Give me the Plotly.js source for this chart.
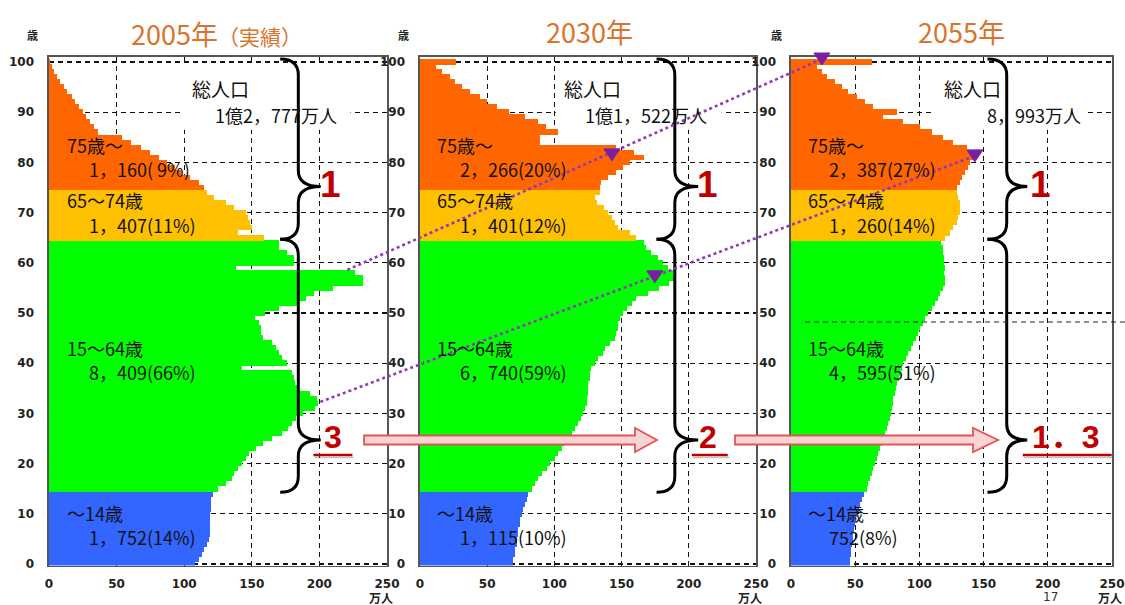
<!DOCTYPE html>
<html><head><meta charset="utf-8">
<script src="https://cdn.plot.ly/plotly-3.0.1.min.js"></script>
<style>html,body{margin:0;padding:0;background:#fff}</style>
</head><body><div id="chart" style="width:1125px;height:605px"></div>
<script>
// ---------------- DATA ----------------
// ages 0..100 (index = age)
const ages = Array.from({length: 101}, (_, i) => i);

// population by single year of age (万人)
const pop2005 = [
  108,111,113,115,117,118,119,119,119,119, 119,120,120,120,121,
  125,131,135,137,140, 143,146,148,153,158,
  165,172,177,180,183, 188,197,199,198,193,
  184,182,181,180,143, 176,172,170,168,165,
  158,157,157,155,152, 160,170,185,190,196,
  210,232,232,226,138, 181,181,176,170,170,
  159,140,150,149,147, 146,137,131,122,117,
  115,111,104,98,93, 87,81,75,68,61, 54,
  36,33,30,27,25, 22,19,17,13,11, 8,6,4,2,1
];
const pop2030 = [
  69.4,69.4,70.6,70.6,71.9,71.9,73,73,74.3,74.3, 75.6,76.8,78,79.3,80.6,
  83,85.5,88,90.5,94.2, 96.7,100.4,102.9,105.4,107.8,
  110.3,112.8,115.2,117.7,120, 121.4,122.7,124,124,125,
  125,125,126.4,126.4,127.6, 130,132.6,136,137.5,141.3,
  145,146,147.4,147.4,148.7, 151,153.7,157.4,161,170,
  178,185,189,188.4,184.6, 181,177,172,168.4,167,
  161,156,147.5,145,142.5, 140,136.6,131.6,130,134,
  134,135,140,146,151, 156,167,159,146,89, 89,
  103,94,88,78,66, 57,50,45,37,31, 26,22,16,12,27
];
const pop2055 = [
  45.9,45.9,46.4,46.7,47.2,48,48.5,49,49.8,50.6, 51.6,52.9,53.7,55,56.8,
  58.9,60.2,61.5,62.8,64, 65.4,66.7,68,69.3,70.5,
  71.8,73.2,74.4,75.7,77, 77.5,78.3,79.1,79.6,80.9,
  81.7,82.7,84,84.8,86.1, 87.4,89.5,91.3,93.1,95.2,
  97.3,99.1,100.4,103,104.4, 106.9,109.5,112,114.6,116,
  118.5,119.8,119.8,119,119.8, 119,119,118.5,118,117.2,
  119.7,123.6,126.3,128.9,130.2, 131.5,131.5,131.5,130.2,128.9,
  128.9,131.5,132.8,135.4,138, 139.3,141.9,140.6,136.7,126.3, 118.5,
  109.5,100.4,87.4,71.8,82.2, 64,57.6,51.1,44.6,39.4, 34.2,28.3,23.9,20,62.8
];
const pops = [pop2005, pop2030, pop2055];

const panelTitles = ['2005年<span style="font-size:21px">（実績）</span>', '2030年', '2055年'];
const groupNames = ['～14歳', '15～64歳', '65～74歳', '75歳～'];
const groupAges = [[0, 14], [15, 64], [65, 74], [75, 100]];
const groupColors = ['#3366FF', '#00FF00', '#FFC000', '#FF6600'];
const groupCounts = [
  ['1，752(14%)', '8，409(66%)', '1，407(11%)', '1，160( 9%)'],
  ['1，115(10%)', '6，740(59%)', '1，401(12%)', '2，266(20%)'],
  ['752(8%)', '4，595(51%)', '1，260(14%)', '2，387(27%)']
];
const totalLabel = '総人口';
const totals = ['1億2，777万人', '1億1，522万人', '8，993万人'];
const oldRatio = ['1', '1', '1'];
const workRatio = ['3', '2', '1．3'];
const yTicks = [0, 10, 20, 30, 40, 50, 60, 70, 80, 90, 100];
const xTicks = [0, 50, 100, 150, 200, 250];
const yUnit = '歳', xUnit = '万人', pageNo = '17';

// ---------------- GEOMETRY ----------------
const W = 1125, H = 605;
const xDomains = [[49 / W, 387 / W], [420 / W, 756 / W], [791 / W, 1112 / W]];
const yDomain = [(H - 565.5) / H, (H - 57) / H];
const xRange = [0, 250], yRange = [-0.3, 101];
const PX = (x, y) => ({x: x / W, y: 1 - y / H});           // pixel -> paper (decorations)
function toPaper(p, v, a) {
  const d = xDomains[p];
  return {
    x: d[0] + (d[1] - d[0]) * (v - xRange[0]) / (xRange[1] - xRange[0]),
    y: yDomain[0] + (yDomain[1] - yDomain[0]) * (a - yRange[0]) / (yRange[1] - yRange[0])
  };
}
const axSuf = p => (p === 0 ? '' : String(p + 1));

// ---------------- TRACES ----------------
const traces = [];
pops.forEach((pop, p) => {
  groupAges.forEach(([lo, hi], g) => {
    traces.push({
      type: 'bar', orientation: 'h',
      y: ages.slice(lo, hi + 1), x: pop.slice(lo, hi + 1),
      width: 1.12,
      marker: {color: groupColors[g], line: {width: 0}},
      xaxis: 'x' + axSuf(p), yaxis: 'y' + axSuf(p),
      hoverinfo: 'skip', name: groupNames[g]
    });
  });
});

// ---------------- LAYOUT ----------------
const tickFont = {family: 'DejaVu Sans', size: 12, color: '#222', weight: 'bold'};
const layout = {
  width: W, height: H,
  margin: {l: 0, r: 0, t: 0, b: 0},
  paper_bgcolor: '#fff', plot_bgcolor: '#fff',
  showlegend: false, barmode: 'overlay', bargap: 0,
  font: {family: 'Noto Sans CJK JP', color: '#111'},
  annotations: [], shapes: []
};
for (let p = 0; p < 3; p++) {
  const s = axSuf(p);
  layout['xaxis' + s] = {
    domain: xDomains[p], range: xRange, anchor: 'y' + s,
    tickvals: xTicks, ticks: 'outside', ticklen: 6, tickcolor: 'rgba(0,0,0,0)',
    tickfont: tickFont, showgrid: true, gridcolor: '#111', gridwidth: 1.2, griddash: '5px,4px',
    zeroline: false, showline: true, mirror: true, linecolor: '#555', linewidth: 1.6, fixedrange: true
  };
  layout['yaxis' + s] = {
    domain: yDomain, range: yRange, anchor: 'x' + s,
    tickvals: yTicks, ticks: 'outside', ticklen: 11, tickcolor: 'rgba(0,0,0,0)',
    tickfont: tickFont, showgrid: true, gridcolor: '#111', gridwidth: 1.2, griddash: '5px,4px',
    zeroline: false, showline: true, mirror: true, linecolor: '#555', linewidth: 1.6, fixedrange: true
  };
}

const A = layout.annotations, S = layout.shapes;
const titlePos = [[216, 33], [589, 32], [961, 32]];
const saiPos = [[32, 35], [403, 35], [776, 35]];
const manPos = [[381, 597], [750, 597], [1110, 597]];
const totalXs = [[104.4, 121.5], [105.6, 121.2], [117.5, 151]];
const boxXs = [[97, 223], [101, 224.5], [112, 229]];
const braceX = [[184.4, 171, 201], [189.6, 176, 207], [168, 153, 184]]; // vertical, curl, tip (万人 units)
const ratioX = [[208, 210.4, 195.6, 224.4], [214, 214.5, 202.2, 229], [194, 214, 180.5, 249.8]];
const groupLabelAges = [[10.1, 5.4], [43, 38.2], [72.5, 67.5], [83.5, 78.7]];

function bracePath(vx, cx, tx, y0, y1, yt, r) {
  return `M ${cx},${y0} Q ${vx},${y0} ${vx},${y0 - r} L ${vx},${yt + r} Q ${vx},${yt} ${tx},${yt} ` +
         `Q ${vx},${yt} ${vx},${yt - r} L ${vx},${y1 + r} Q ${vx},${y1} ${cx},${y1}`;
}

for (let p = 0; p < 3; p++) {
  const s = axSuf(p), xr = 'x' + s, yr = 'y' + s;
  // panel title
  let t = PX(...titlePos[p]);
  A.push({xref: 'paper', yref: 'paper', x: t.x, y: t.y, text: panelTitles[p], showarrow: false,
          font: {family: 'Noto Sans CJK JP', size: 27, color: '#D9742C'}, xanchor: 'center', yanchor: 'middle'});
  t = PX(...saiPos[p]);
  A.push({xref: 'paper', yref: 'paper', x: t.x, y: t.y, text: yUnit, showarrow: false,
          xanchor: 'center', yanchor: 'middle',
          font: {family: 'Noto Sans CJK JP', size: 11, color: '#222', weight: 'bold'}});
  t = PX(...manPos[p]);
  A.push({xref: 'paper', yref: 'paper', x: t.x, y: t.y, text: xUnit, showarrow: false,
          xanchor: 'center', yanchor: 'middle',
          font: {family: 'Noto Sans CJK JP', size: 12, color: '#222', weight: 'bold'}});
  // group labels
  groupAges.forEach((_, g) => {
    A.push({xref: xr, yref: yr, x: 11.5, y: groupLabelAges[g][0], text: groupNames[g], showarrow: false,
            xanchor: 'left', yanchor: 'middle', font: {size: 18, color: '#111'}});
    A.push({xref: xr, yref: yr, x: 28, y: groupLabelAges[g][1], text: groupCounts[p][g], showarrow: false,
            xanchor: 'left', yanchor: 'middle', font: {size: 18, color: '#111'}});
  });
  // total population (with white patch hiding the grid)
  S.push({type: 'rect', xref: xr, yref: yr, x0: boxXs[p][0], x1: boxXs[p][1], y0: 86.5, y1: 99.3,
          fillcolor: '#fff', line: {width: 0}, layer: 'between'});
  A.push({xref: xr, yref: yr, x: totalXs[p][0], y: 94.8, text: totalLabel, showarrow: false,
          xanchor: 'left', yanchor: 'middle', font: {size: 19, color: '#111'}});
  A.push({xref: xr, yref: yr, x: totalXs[p][1], y: 89.4, text: totals[p], showarrow: false,
          xanchor: 'left', yanchor: 'middle', font: {size: 18, color: '#111'}});
  // braces
  const [vx, cx, tx] = braceX[p];
  S.push({type: 'path', xref: xr, yref: yr, path: bracePath(vx, cx, tx, 100.6, 64.7, 75.2, 3.2),
          line: {color: '#000', width: 3}});
  S.push({type: 'path', xref: xr, yref: yr, path: bracePath(vx, cx, tx, 64.7, 14.3, 24.7, 3.2),
          line: {color: '#000', width: 3}});
  // ratio numbers
  A.push({xref: xr, yref: yr, x: ratioX[p][0], y: 75.6, text: '<b>' + oldRatio[p] + '</b>', showarrow: false,
          font: {family: 'Liberation Sans', size: 37, color: '#C00000'}});
  A.push({xref: xr, yref: yr, x: ratioX[p][1], y: 25.3, text: '<b>' + workRatio[p] + '</b>', showarrow: false,
          font: {family: 'Liberation Sans, Noto Sans CJK JP', size: 32, color: '#C00000'}});
  S.push({type: 'line', xref: xr, yref: yr, x0: ratioX[p][2], x1: ratioX[p][3], y0: 21.7, y1: 21.7,
          line: {color: '#C00000', width: 2.5}});
  S.push({type: 'line', xref: xr, yref: yr, x0: ratioX[p][2] + 1, x1: ratioX[p][3] + 1, y0: 21.2, y1: 21.2,
          line: {color: 'rgba(120,120,120,0.45)', width: 1.5}});
}

// block arrows between panels
function blockArrow(x0, xb, xt, yc) {
  const a = PX(x0, yc - 4.5), b = PX(xb, yc - 4.5), c = PX(xb, yc - 12), d = PX(xt, yc),
        e = PX(xb, yc + 12), f = PX(xb, yc + 4.5), g = PX(x0, yc + 4.5);
  return `M ${a.x},${a.y} L ${b.x},${b.y} L ${c.x},${c.y} L ${d.x},${d.y} L ${e.x},${e.y} L ${f.x},${f.y} L ${g.x},${g.y} Z`;
}
S.push({type: 'path', xref: 'paper', yref: 'paper', path: blockArrow(364, 635, 657, 440),
        fillcolor: '#FAD4D4', line: {color: '#E05555', width: 1.8}});
S.push({type: 'path', xref: 'paper', yref: 'paper', path: blockArrow(735, 973, 998, 440),
        fillcolor: '#FAD4D4', line: {color: '#E05555', width: 1.8}});

// dotted cohort lines (panel, value, age)
const cohortLines = [
  {from: [0, 220.7, 58.6], to: [2, 24.1, 100.6], marks: [[1, 142.8, 81.5], [2, 24.1, 100.6]]},
  {from: [0, 200.7, 32.3], to: [2, 143.2, 81.3], marks: [[1, 174.7, 57.2], [2, 143.2, 81.3]]}
];
cohortLines.forEach(cl => {
  const a = toPaper(...cl.from), b = toPaper(...cl.to);
  S.push({type: 'line', xref: 'paper', yref: 'paper', x0: a.x, y0: a.y, x1: b.x, y1: b.y,
          line: {color: '#9238B8', width: 2.6, dash: 'dot'}});
  cl.marks.forEach(m => {
    const c = toPaper(...m), dx = 8 / W, dy = 6 / H;
    S.push({type: 'path', xref: 'paper', yref: 'paper',
            path: `M ${c.x - dx},${c.y + dy} L ${c.x + dx},${c.y + dy} L ${c.x},${c.y - dy} Z`,
            fillcolor: '#7A1FA2', line: {color: '#7A1FA2', width: 1}});
  });
});

// stray dashed line in the right panel and page number
(() => {
  const a = PX(805, 322), b = PX(1125, 322);
  S.push({type: 'line', xref: 'paper', yref: 'paper', x0: a.x, x1: b.x, y0: a.y, y1: b.y,
          line: {color: '#222', width: 1.2, dash: '5px,4px'}});
  const n = PX(1050, 597);
  A.push({xref: 'paper', yref: 'paper', x: n.x, y: n.y, text: pageNo, showarrow: false,
          xanchor: 'center', yanchor: 'middle',
          font: {family: 'DejaVu Sans', size: 12, color: '#333'}});
})();

Plotly.newPlot('chart', traces, layout, {displayModeBar: false, staticPlot: true});
</script>
</body></html>
